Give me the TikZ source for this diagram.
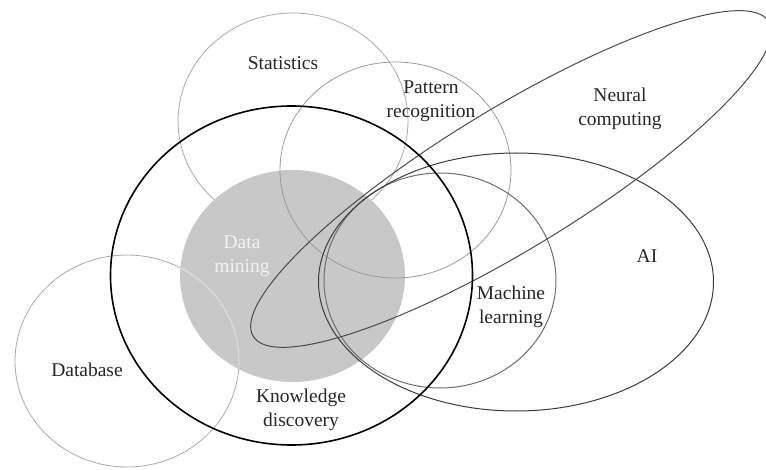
\documentclass[tikz,border=0pt]{standalone}
\usepackage{fontspec}
\setmainfont{Liberation Serif}
\definecolor{lightln}{HTML}{AAAAAA}
\definecolor{patln}{HTML}{9A9A9A}
\definecolor{mlln}{HTML}{6E6E6E}
\definecolor{ailn}{HTML}{3C3C3C}
\definecolor{nnln}{HTML}{4A4A4A}
\definecolor{dmfill}{HTML}{C8C8C8}
\definecolor{dmtext}{HTML}{F2F2F2}
\definecolor{dbinner}{HTML}{E2E2E2}
\begin{document}
\begin{tikzpicture}[
  lbl/.style={font=\fontsize{19.5}{23.5}\selectfont, align=center, inner sep=0pt, text=black!85},
  thinring/.style={draw=lightln, line width=0.8pt},
]
\useasboundingbox (0pt,0pt) rectangle (766pt,-470pt);
% Statistics and Database (under the data-mining disk)
\draw[thinring] (293pt,-121pt) ellipse [x radius=115pt, y radius=108pt];
\draw[thinring] (127pt,-361pt) ellipse [x radius=112pt, y radius=106pt];
% Data mining disk
\fill[dmfill] (292.5pt,-276pt) ellipse [x radius=112.5pt, y radius=106pt];
\begin{scope}
  \clip (292.5pt,-276pt) ellipse [x radius=112.5pt, y radius=106pt];
  \draw[draw=dbinner, line width=0.8pt] (127pt,-361pt) ellipse [x radius=112pt, y radius=106pt];
\end{scope}
% Pattern recognition
\draw[draw=patln, line width=0.8pt] (395.5pt,-170pt) ellipse [x radius=115.5pt, y radius=108pt];
% Machine learning
\draw[draw=mlln, line width=1pt] (440pt,-280.5pt) ellipse [x radius=116pt, y radius=107.5pt];
% AI
\draw[draw=ailn, line width=1pt] (516pt,-282pt) ellipse [x radius=197.5pt, y radius=129pt];
% Neural computing
\draw[draw=nnln, line width=1pt, shift={(511pt,-179pt)}, rotate=31.4] (0pt,0pt) ellipse [x radius=302pt, y radius=70pt];
% Knowledge discovery
\draw[draw=black, line width=1.6pt] (291.5pt,-275.5pt) ellipse [x radius=181pt, y radius=169.5pt];
% Labels
\node[lbl] (stat) at (283pt,-63pt) {Statistics};
\node[lbl] (patt) at (431pt,-101pt) {Pattern\\recognition};
\node[lbl] (neur) at (620pt,-109pt) {Neural\\computing};
\node[lbl, text=dmtext] (dm) at (242pt,-256pt) {Data\\mining};
\node[lbl] (db) at (87pt,-370pt) {Database};
\node[lbl] (kd) at (301pt,-410pt) {Knowledge\\discovery};
\node[lbl] (ml) at (511pt,-307pt) {Machine\\learning};
\node[lbl] (ai) at (647pt,-256pt) {AI};
\end{tikzpicture}
\end{document}
